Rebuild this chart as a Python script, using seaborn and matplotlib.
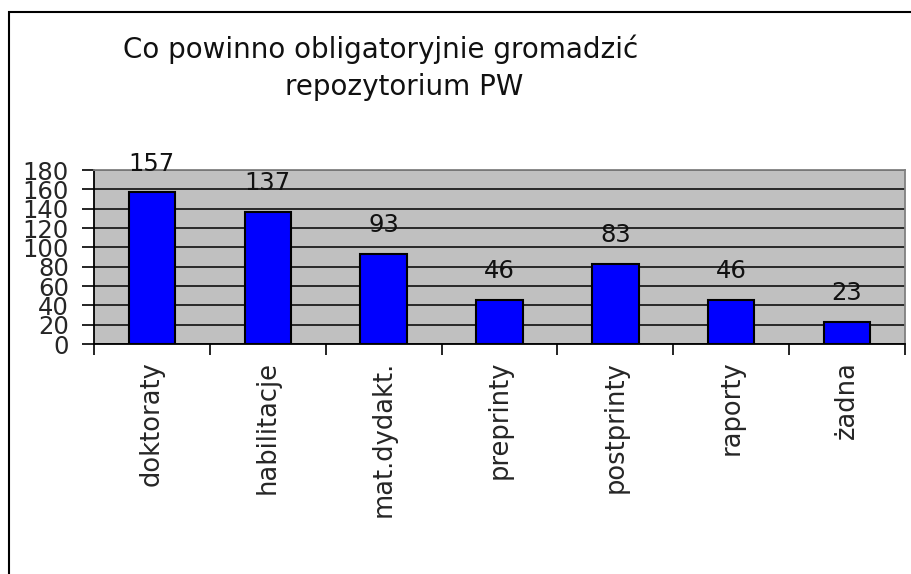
import matplotlib
matplotlib.use('Agg')
import matplotlib.pyplot as plt
import seaborn as sns
import pandas as pd
from matplotlib.patches import Rectangle

categories = ['doktoraty', 'habilitacje', 'mat.dydakt.', 'preprinty',
              'postprinty', 'raporty', 'żadna']
counts = [157, 137, 93, 46, 83, 46, 23]
yticks = list(range(0, 181, 20))
title_1 = 'Co powinno obligatoryjnie gromadzić'
title_2 = 'repozytorium PW'

sns.set_style('white')
plt.rcParams['font.family'] = ['DejaVu Sans']

df = pd.DataFrame({'kat': categories, 'n': counts})

fig = plt.figure(figsize=(9.12, 5.74), dpi=100)
ax = fig.add_axes([94/912, 1-344/574, (905-94)/912, (344-170)/574])
ax.set_facecolor('#C0C0C0')

sns.barplot(data=df, x='kat', y='n', color='#0000FF', saturation=1,
            width=0.4, edgecolor='black', linewidth=1.5, ax=ax, zorder=3)

# value labels above bars
for i, v in enumerate(counts):
    ax.annotate(str(v), xy=(i, v), xytext=(0, 12), textcoords='offset points',
                ha='center', va='bottom', fontsize=17.5, color='#111111')

ax.set_xlim(-0.5, len(categories)-0.5)
ax.set_ylim(0, 180)
ax.set_yticks(yticks)
ax.set_yticklabels([str(t) for t in yticks], fontsize=17.5)
ax.yaxis.grid(True, color='black', linewidth=1.1, zorder=1)
ax.set_axisbelow(True)

# category labels at centres, tick marks on boundaries
ax.set_xticks(range(len(categories)))
ax.set_xticklabels(categories, rotation=90, fontsize=18.5, va='top')
ax.tick_params(axis='x', which='major', length=0, pad=12)
ax.set_xticks([i-0.5 for i in range(len(categories)+1)], minor=True)
ax.tick_params(axis='x', which='minor', length=8, width=1.2, color='black', bottom=True)
ax.tick_params(axis='y', length=9, width=1.2, color='black', left=True, pad=9)

ax.set_xlabel('')
ax.set_ylabel('')
for s in ['left', 'bottom']:
    ax.spines[s].set_color('black')
    ax.spines[s].set_linewidth(1.3)
for s in ['top', 'right']:
    ax.spines[s].set_color('#808080')
    ax.spines[s].set_linewidth(1.3)
    ax.spines[s].set_visible(True)

fig.text(381/912, 1-58/574, title_1, ha='center', va='baseline', fontsize=20, color='#111111')
fig.text(404/912, 1-95/574, title_2, ha='center', va='baseline', fontsize=20, color='#111111')

# outer frame (left and top edges visible)
fig.patches.append(Rectangle((9/912, -0.1), 1.2, 1.1-12/574, transform=fig.transFigure,
                             fill=False, edgecolor='black', linewidth=1.5))

fig.savefig('out.png', dpi=100)
